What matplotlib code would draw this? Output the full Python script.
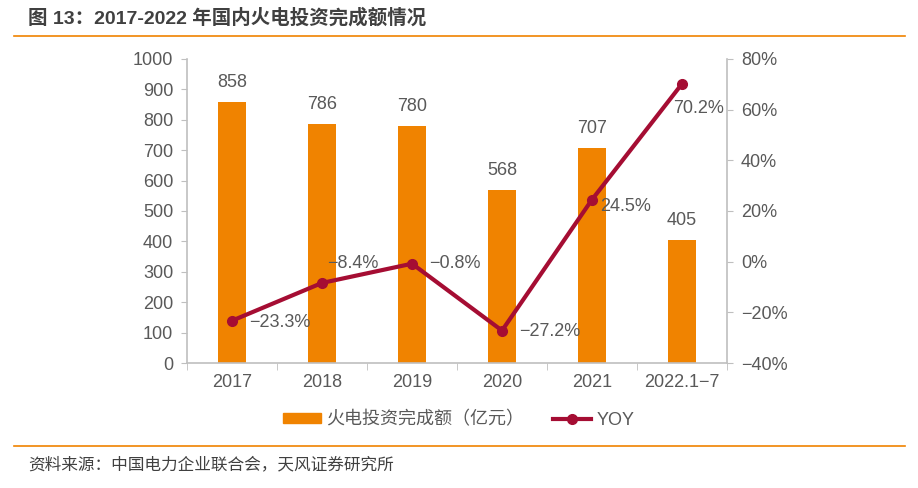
import matplotlib
matplotlib.use("Agg")
import matplotlib.pyplot as plt
from matplotlib.lines import Line2D
from matplotlib.patches import Patch

plt.rcParams['font.family'] = ['Liberation Sans', 'Noto Sans CJK SC', 'DejaVu Sans']

categories = ['2017', '2018', '2019', '2020', '2021', '2022.1−7']
invest = [858, 786, 780, 568, 707, 405]
yoy = [-23.3, -8.4, -0.8, -27.2, 24.5, 70.2]
yoy_labels = ['−23.3%', '−8.4%', '−0.8%', '−27.2%', '24.5%', '70.2%']
left_ticks = list(range(0, 1001, 100))
right_ticks = list(range(-40, 81, 20))
right_tick_labels = ['−40%', '−20%', '0%', '20%', '40%', '60%', '80%']

ORANGE = '#F08300'
RED = '#A50D33'
TXT = '#595959'
SPINE = '#BFBFBF'
FS = 13

W, H = 918, 488
fig = plt.figure(figsize=(W / 100, H / 100), dpi=100)
ax = fig.add_axes([187 / W, 1 - 363 / H, (727 - 187) / W, (363 - 59) / H])
x = list(range(len(categories)))

ax.bar(x, invest, width=0.31, color=ORANGE, zorder=2)
for xi, v in zip(x, invest):
    ax.annotate(str(v), (xi, v), xytext=(0, 8), textcoords='offset points',
                ha='center', va='bottom', fontsize=FS, color=TXT)

ax.set_xlim(-0.5, len(categories) - 0.5)
ax.set_ylim(0, 1000)
ax.set_yticks(left_ticks)
ax.set_xticks(x)
ax.set_xticklabels(categories)
ax.set_xticks([i - 0.5 for i in range(len(categories) + 1)], minor=True)
ax.tick_params(axis='x', which='major', length=0, pad=8, labelsize=FS, labelcolor=TXT)
ax.tick_params(axis='x', which='minor', length=5, color=SPINE, direction='out')
ax.tick_params(axis='y', length=4, color=SPINE, labelsize=FS, labelcolor=TXT, pad=6)
for s in ['top', 'right']:
    ax.spines[s].set_visible(False)
for s in ['left', 'bottom']:
    ax.spines[s].set_color(SPINE)
    ax.spines[s].set_linewidth(1.2)

ax2 = ax.twinx()
ax2.plot(x, yoy, color=RED, lw=3, marker='o', ms=7, zorder=3)
ax2.set_ylim(-40, 80)
ax2.set_yticks(right_ticks)
ax2.set_yticklabels(right_tick_labels)
ax2.tick_params(axis='y', length=4, color=SPINE, labelsize=FS, labelcolor=TXT, pad=6)
for s in ['top', 'left', 'bottom']:
    ax2.spines[s].set_visible(False)
ax2.spines['right'].set_color(SPINE)
ax2.spines['right'].set_linewidth(1.2)

offsets = [(12, -1), (4, 14), (12, 0), (12, -1), (6, -5), (12, -18)]
aligns = [('left', 'center'), ('left', 'center'), ('left', 'center'),
          ('left', 'center'), ('left', 'center'), ('center', 'center')]
for xi, v, lab, off, al in zip(x, yoy, yoy_labels, offsets, aligns):
    ax2.annotate(lab, (xi, v), xytext=off, textcoords='offset points',
                 ha=al[0], va=al[1], fontsize=FS, color=TXT, zorder=4)

# header / footer
fig.text(28 / W, 1 - 18 / H, '图 13：2017-2022 年国内火电投资完成额情况', fontsize=14,
         fontweight='bold', color='#404040', ha='left', va='center',
         family=['Liberation Sans', 'Noto Sans CJK SC'])
fig.add_artist(Line2D([14 / W, 905 / W], [1 - 36 / H, 1 - 36 / H], color=ORANGE, lw=1.2))
fig.add_artist(Line2D([14 / W, 905 / W], [1 - 446 / H, 1 - 446 / H], color=ORANGE, lw=1.2))
fig.text(28 / W, 1 - 465 / H, '资料来源：中国电力企业联合会，天风证券研究所', fontsize=12,
         color='#404040', ha='left', va='center', family=['Noto Sans CJK SC', 'Liberation Sans'])

handles = [Patch(color=ORANGE, label='火电投资完成额（亿元）'),
           Line2D([], [], color=RED, lw=3, marker='o', ms=7, label='YOY')]
leg = fig.legend(handles=handles, loc='center', bbox_to_anchor=(0.5, 1 - 420 / H), ncol=2,
                 frameon=False, fontsize=FS, handlelength=2.1, handleheight=0.5,
                 columnspacing=1.6, handletextpad=0.3)
for t in leg.get_texts():
    t.set_color(TXT)
    t.set_family(['Liberation Sans', 'Noto Sans CJK SC'])

fig.savefig('out.png', dpi=100)
